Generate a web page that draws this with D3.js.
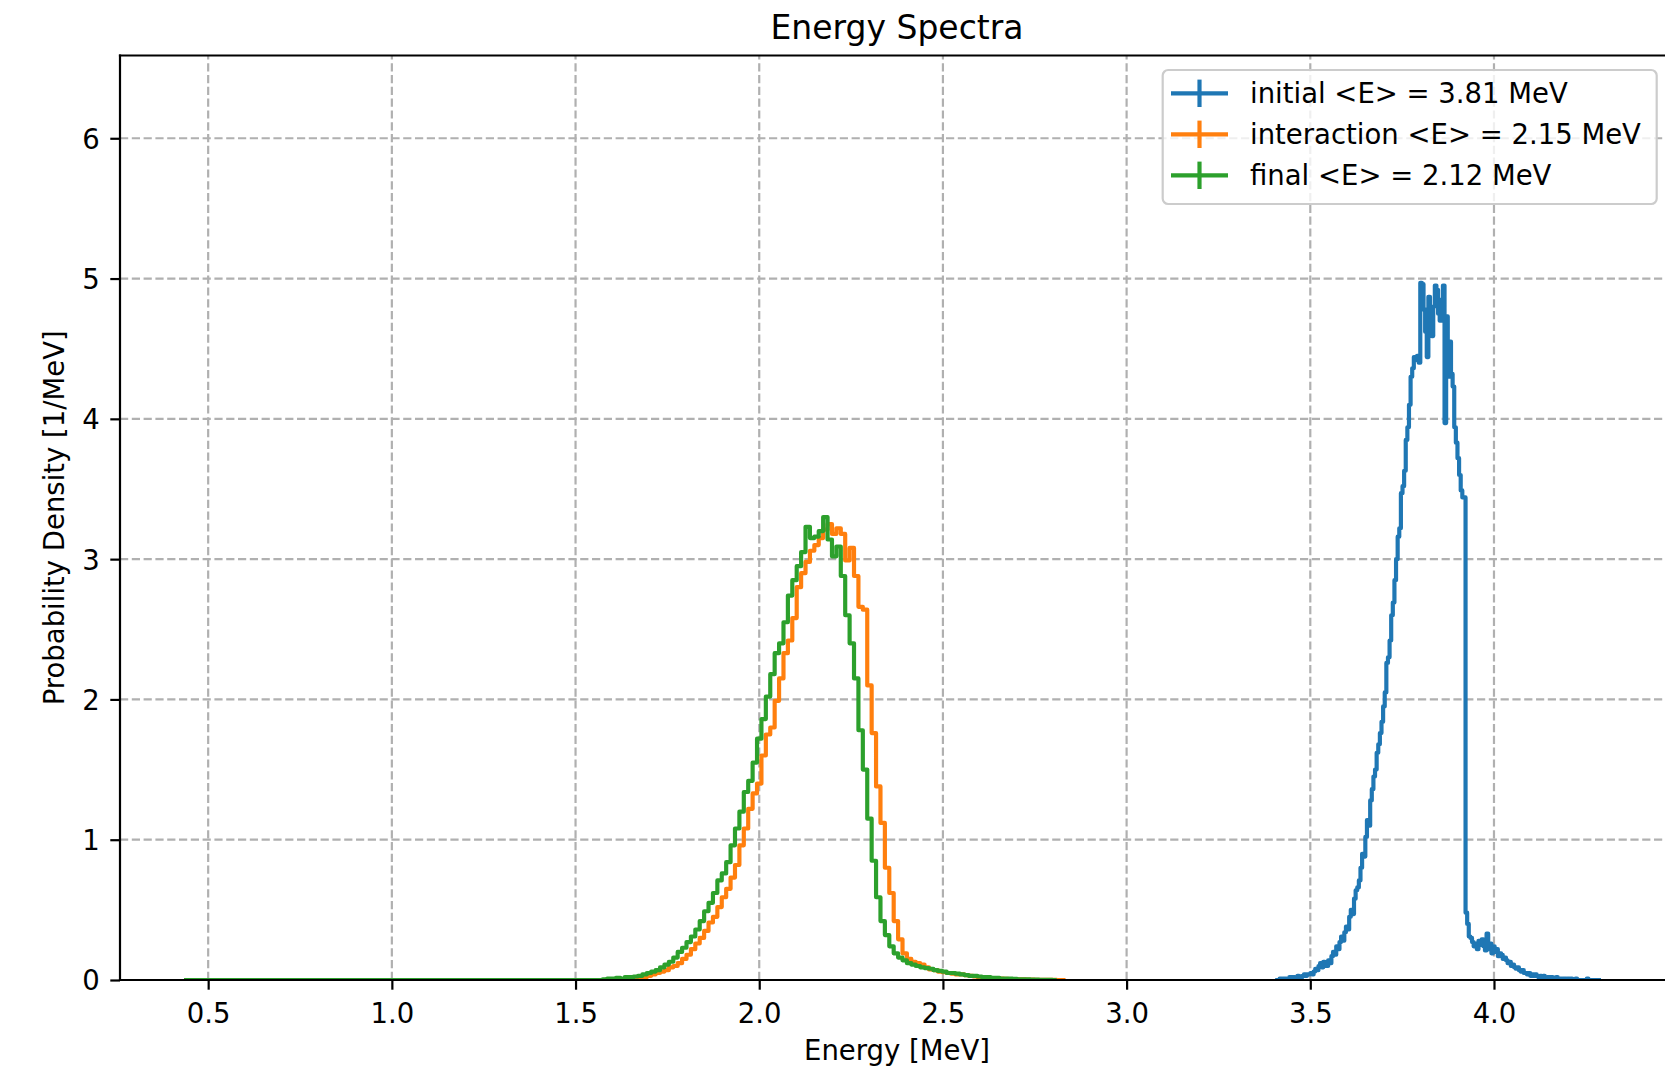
<!DOCTYPE html>
<html>
<head>
<meta charset="utf-8">
<script src="https://cdn.jsdelivr.net/npm/d3@7"></script>
<style>
  html, body { margin: 0; padding: 0; background: #ffffff; }
  svg { display: block; font-family: "DejaVu Sans", sans-serif; }
</style>
</head>
<body>
<svg id="chart" width="1665" height="1073"></svg>
<script>
// ---- data -------------------------------------------------------------
const xTickValues = [0.5, 1.0, 1.5, 2.0, 2.5, 3.0, 3.5, 4.0];
const yTickValues = [0, 1, 2, 3, 4, 5, 6];

const seriesNames = ["initial", "interaction", "final"];
const meanEnergies = [3.81, 2.15, 2.12];           // MeV

// initial spectrum: bin centres start at 3.41 MeV, 0.0044 MeV wide
const initialStart = 3.41;
const initialWidth = 0.0044;
const initialDensity = [
  0.00,0.00,0.01,0.00,0.01,0.01,0.00,0.01,0.02,0.01,
  0.02,0.01,0.02,0.03,0.02,0.02,0.03,0.04,0.03,0.04,
  0.04,0.05,0.04,0.06,0.08,0.07,0.10,0.12,0.09,0.13,
  0.11,0.10,0.14,0.12,0.17,0.20,0.18,0.24,0.22,0.27,
  0.31,0.28,0.34,0.38,0.36,0.45,0.50,0.47,0.58,0.64,
  0.66,0.71,0.80,0.90,0.88,1.02,1.14,1.10,1.28,1.36,
  1.45,1.50,1.62,1.68,1.76,1.84,1.95,2.05,2.26,2.30,
  2.42,2.60,2.69,2.85,3.00,3.16,3.22,3.47,3.52,3.63,
  3.85,3.94,4.10,4.30,4.36,4.44,4.42,4.45,4.40,4.97,
  4.96,4.78,4.62,4.44,4.87,4.70,4.59,4.80,4.95,4.92,
  4.75,4.70,4.85,4.95,3.97,4.73,4.30,4.55,4.32,4.23,
  3.94,3.83,3.72,3.60,3.49,3.44,3.44,0.48,0.40,0.31,
  0.30,0.27,0.24,0.26,0.22,0.28,0.25,0.29,0.24,0.21,
  0.33,0.22,0.26,0.19,0.24,0.20,0.22,0.17,0.19,0.18,
  0.15,0.16,0.14,0.12,0.13,0.10,0.11,0.09,0.08,0.09,
  0.07,0.06,0.07,0.05,0.05,0.04,0.05,0.03,0.04,0.03,
  0.04,0.03,0.02,0.03,0.02,0.03,0.02,0.01,0.02,0.01,
  0.02,0.01,0.01,0.02,0.01,0.01,0.00,0.01,0.01,0.00,
  0.01,0.00,0.01,0.00,0.00,0.01,0.00,0.00,0.00,0.00,
  0.00,0.00,0.01,0.00,0.00,0.00,0.00,0.00,0.00,0.00
];

// spectrum at interaction: bin centres start at 0.44 MeV, 0.012 MeV wide
const interactionStart = 0.44;
const interactionWidth = 0.012;
const interactionDensity = [
  0,0,0,0,0,0,0,0,0,0,0,0,0,0,0,0,0,0,0,0,
  0,0,0,0,0,0,0,0,0,0,0,0,0,0,0,0,0,0,0,0,
  0,0,0,0,0,0,0,0,0,0,0,0,0,0,0,0,0,0,0,0,
  0,0,0,0,0,0,0,0,0,0,0,0,0,0,0,0,0,0,0,0,
  0,0,0,0,0,0,0,0,0,0,0,0,0,0,0,0,0,0,0,0,
  0,
  0.005,0.01,0.01,0.02,0.03,0.04,0.05,0.06,0.07,
  0.09,0.10,0.12,0.15,0.18,0.22,0.26,0.30,0.35,0.41,
  0.45,0.52,0.59,0.65,0.73,0.82,0.96,1.08,1.22,1.33,
  1.40,1.60,1.75,1.80,1.99,2.15,2.33,2.42,2.58,2.80,
  2.90,2.98,3.06,3.10,3.15,3.21,3.25,3.18,3.22,3.18,
  2.99,3.08,2.88,2.66,2.64,2.10,1.76,1.38,1.12,0.80,
  0.62,0.42,0.29,0.19,0.15,0.13,0.12,0.11,0.09,0.075,
  0.07,0.06,0.055,0.05,0.045,0.04,0.04,0.035,0.03,0.025,
  0.02,0.02,0.015,0.012,0.01,0.01,0.008,0.006,0.005,0.004,
  0.004,0.003,0.003,0.002,0.002,0.001,0.001,0.001,0,0
];

// final spectrum: bin centres start at 0.44 MeV, 0.012 MeV wide
const finalStart = 0.44;
const finalWidth = 0.012;
const finalDensity = [
  0,0,0,0,0,0,0,0,0,0,0,0,0,0,0,0,0,0,0,0,
  0,0,0,0,0,0,0,0,0,0,0,0,0,0,0,0,0,0,0,0,
  0,0,0,0,0,0,0,0,0,0,0,0,0,0,0,0,0,0,0,0,
  0,0,0,0,0,0,0,0,0,0,0,0,0,0,0,0,0,0,0,0,
  0,0,0,0,0,0,0,0,0,0,0,0,0,0,0,
  0.005,0.01,0.01,0.015,0.01,
  0.02,0.02,0.025,0.03,0.04,0.05,0.06,0.07,0.09,0.11,
  0.13,0.16,0.20,0.23,0.27,0.31,0.36,0.42,0.49,0.55,
  0.62,0.71,0.76,0.84,0.96,1.08,1.20,1.34,1.42,1.55,
  1.72,1.86,2.02,2.18,2.33,2.40,2.55,2.74,2.85,2.95,
  3.05,3.23,3.15,3.16,3.20,3.30,3.14,3.02,3.09,2.88,
  2.60,2.40,2.15,1.78,1.50,1.15,0.85,0.59,0.42,0.32,
  0.24,0.19,0.16,0.14,0.12,0.11,0.10,0.09,0.085,0.08,
  0.07,0.065,0.06,0.05,0.05,0.045,0.04,0.035,0.03,0.03,
  0.025,0.02,0.02,0.015,0.015,0.01,0.01,0.01,0.008,0.005,
  0.005,0.005,0.003,0.003,0.002,0.002,0.001,0
];

const seriesColors = ["#1f77b4", "#ff7f0e", "#2ca02c"];

// ---- layout -----------------------------------------------------------
const svg = d3.select("#chart");
const plot = { left: 120, top: 55.5, right: 1674, bottom: 980 };
const fontSize = 27.5;

const x = d3.scaleLinear().domain([0.26, 4.49]).range([plot.left, plot.right]);
const y = d3.scaleLinear().domain([0, 6.59]).range([plot.bottom, plot.top]);

svg.append("rect").attr("width", 1665).attr("height", 1073).attr("fill", "#ffffff");

svg.append("defs").append("clipPath").attr("id", "plot-clip")
  .append("rect")
  .attr("x", plot.left).attr("y", plot.top)
  .attr("width", plot.right - plot.left).attr("height", plot.bottom - plot.top);

// ---- grid -------------------------------------------------------------
const grid = svg.append("g").attr("stroke", "#b0b0b0").attr("stroke-width", 2.2)
  .attr("stroke-dasharray", "8.2,3.6").attr("fill", "none");
grid.selectAll("line.gx").data(xTickValues).join("line").attr("class", "gx")
  .attr("x1", d => x(d)).attr("x2", d => x(d))
  .attr("y1", plot.bottom).attr("y2", plot.top);
grid.selectAll("line.gy").data(yTickValues).join("line").attr("class", "gy")
  .attr("x1", plot.left).attr("x2", plot.right)
  .attr("y1", d => y(d)).attr("y2", d => y(d));

// ---- spectra (step histograms, steps centred on bins) -------------------
function binsOf(start, width, values) {
  return values.map((v, i) => ({ e: start + i * width, v: v }));
}
const spectra = [
  binsOf(initialStart, initialWidth, initialDensity),
  binsOf(interactionStart, interactionWidth, interactionDensity),
  binsOf(finalStart, finalWidth, finalDensity)
];

const stepLine = d3.line().x(d => x(d.e)).y(d => y(d.v)).curve(d3.curveStep);

const lines = svg.append("g").attr("clip-path", "url(#plot-clip)");
spectra.forEach((bins, k) => {
  lines.append("path")
    .datum(bins)
    .attr("d", stepLine)
    .attr("fill", "none")
    .attr("stroke", seriesColors[k])
    .attr("stroke-width", 4.17)
    .attr("stroke-linejoin", "round")
    .attr("stroke-linecap", "square");
});

// ---- axes ---------------------------------------------------------------
const xAxis = d3.axisBottom(x).tickValues(xTickValues).tickFormat(d3.format(".1f"))
  .tickSize(9.7).tickPadding(9.7).tickSizeOuter(0);
const gx = svg.append("g").attr("transform", `translate(0,${plot.bottom})`).call(xAxis);
gx.select(".domain").remove();
gx.selectAll(".tick line").attr("stroke", "#000").attr("stroke-width", 2.2);
gx.selectAll(".tick text").attr("font-size", fontSize).attr("fill", "#000")
  .attr("font-family", "DejaVu Sans").attr("dy", null).attr("y", 42.7);

const yAxis = d3.axisLeft(y).tickValues(yTickValues).tickFormat(d3.format("d"))
  .tickSize(9.7).tickPadding(10.5).tickSizeOuter(0);
const gy = svg.append("g").attr("transform", `translate(${plot.left},0)`).call(yAxis);
gy.select(".domain").remove();
gy.selectAll(".tick line").attr("stroke", "#000").attr("stroke-width", 2.2);
gy.selectAll(".tick text").attr("font-size", fontSize).attr("fill", "#000")
  .attr("font-family", "DejaVu Sans").attr("dy", "0.36em");

// frame
const frame = svg.append("g").attr("stroke", "#000").attr("stroke-width", 2.2)
  .attr("stroke-linecap", "square");
frame.append("line").attr("x1", plot.left).attr("x2", plot.left).attr("y1", plot.top).attr("y2", plot.bottom);
frame.append("line").attr("x1", plot.left).attr("x2", plot.right).attr("y1", plot.bottom).attr("y2", plot.bottom);
frame.append("line").attr("x1", plot.left).attr("x2", plot.right).attr("y1", plot.top).attr("y2", plot.top);
frame.append("line").attr("x1", plot.right).attr("x2", plot.right).attr("y1", plot.top).attr("y2", plot.bottom);

// ---- labels -------------------------------------------------------------
const midX = (plot.left + plot.right) / 2;
svg.append("text").attr("x", midX).attr("y", 39)
  .attr("text-anchor", "middle").attr("font-size", 33).attr("fill", "#000")
  .text("Energy Spectra");
svg.append("text").attr("x", midX).attr("y", 1060)
  .attr("text-anchor", "middle").attr("font-size", fontSize).attr("fill", "#000")
  .text("Energy [MeV]");
svg.append("text")
  .attr("transform", `translate(64,${(plot.top + plot.bottom) / 2}) rotate(-90)`)
  .attr("text-anchor", "middle").attr("font-size", fontSize).attr("fill", "#000")
  .text("Probability Density [1/MeV]");

// ---- legend -------------------------------------------------------------
const legend = svg.append("g");
legend.append("rect")
  .attr("x", 1162.7).attr("y", 70).attr("width", 494).attr("height", 134)
  .attr("rx", 5.5).attr("ry", 5.5)
  .attr("fill", "#ffffff").attr("fill-opacity", 0.8)
  .attr("stroke", "#cccccc").attr("stroke-width", 2.2);

const rowY = i => 93.3 + 41 * i;
seriesNames.forEach((name, i) => {
  const cy = rowY(i);
  legend.append("line").attr("x1", 1171).attr("x2", 1228).attr("y1", cy).attr("y2", cy)
    .attr("stroke", seriesColors[i]).attr("stroke-width", 4.17);
  legend.append("line").attr("x1", 1199.5).attr("x2", 1199.5).attr("y1", cy - 13.7).attr("y2", cy + 13.7)
    .attr("stroke", seriesColors[i]).attr("stroke-width", 4.17);
  legend.append("text").attr("x", 1250).attr("y", cy + 10)
    .attr("font-size", fontSize).attr("fill", "#000")
    .text(`${name} <E> = ${meanEnergies[i].toFixed(2)} MeV`);
});
</script>
</body>
</html>
